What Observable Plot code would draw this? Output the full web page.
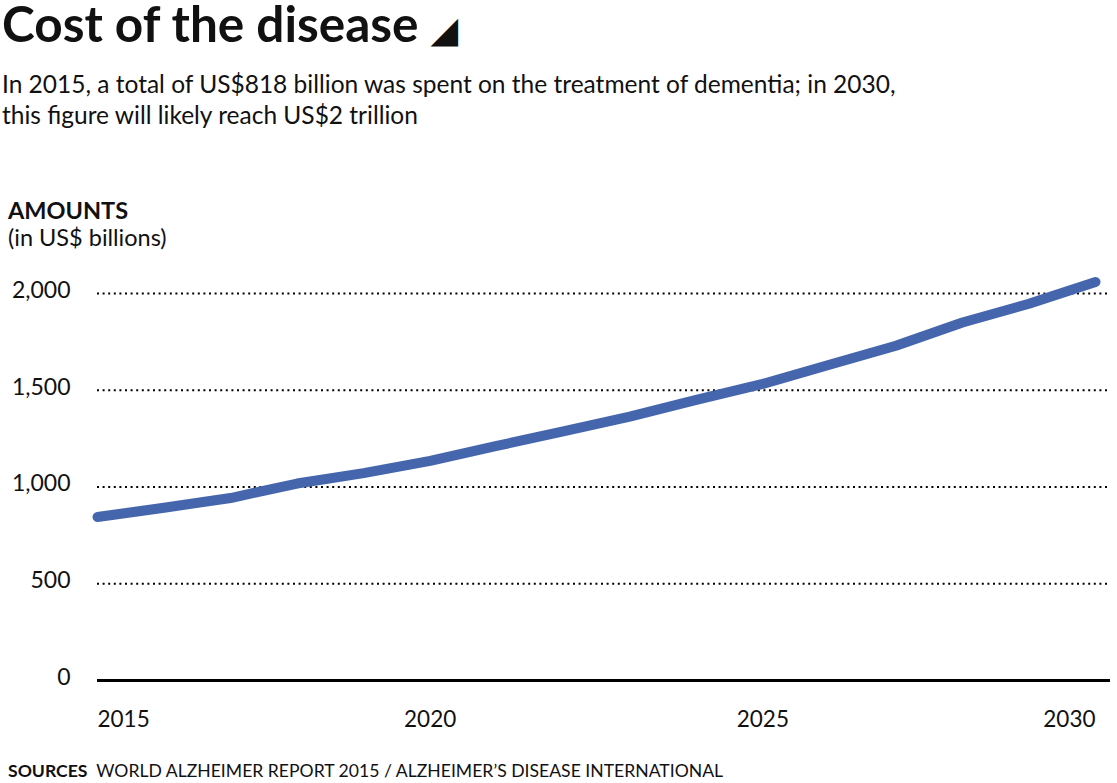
<!DOCTYPE html>
<html>
<head>
<meta charset="utf-8">
<script src="https://cdn.jsdelivr.net/npm/d3@7"></script>
<script src="https://cdn.jsdelivr.net/npm/@observablehq/plot@0.6"></script>
<style>
  html, body { margin: 0; padding: 0; background: #fff; }
  body { width: 1117px; height: 783px; position: relative; overflow: hidden; font-family: Lato, "Noto Sans", sans-serif; color: #111; }
  .abs { position: absolute; white-space: nowrap; }
  #title { left: 2px; top: 2px; font-size: 49.5px; font-weight: 700; line-height: 42px; }
  #title .tri { font-family: "DejaVu Sans"; font-size: 36px; margin-left: 12px; }
  #subtitle { left: 2px; top: 68px; font-size: 24.5px; line-height: 31px; }
  #ylab { left: 8px; top: 197px; font-size: 23.5px; line-height: 27px; }
  #ylab b { font-weight: 700; }
  #chart { left: 0; top: 260px; }
  #caption { left: 8px; top: 760px; font-size: 17.6px; line-height: 22px; }
  #caption b { font-weight: 700; }
</style>
</head>
<body>
<div id="title" class="abs">Cost of the disease<span class="tri">◢</span></div>
<div id="subtitle" class="abs">In 2015, a total of US$818 billion was spent on the treatment of dementia; in 2030,<br>this figure will likely reach US$2 trillion</div>
<div id="ylab" class="abs"><b>AMOUNTS</b><br>(in US$ billions)</div>
<div id="chart" class="abs"></div>
<div id="caption" class="abs"><b>SOURCES</b>&nbsp; WORLD ALZHEIMER REPORT 2015 / ALZHEIMER’S DISEASE INTERNATIONAL</div>
<script>
const years = [2015, 2016, 2017, 2018, 2019, 2020, 2021, 2022, 2023, 2024, 2025, 2026, 2027, 2028, 2029, 2030];
const costs = [845, 893, 943, 1018, 1072, 1135, 1212, 1288, 1364, 1450, 1533, 1632, 1730, 1850, 1947, 2060];
const yTicks = [0, 500, 1000, 1500, 2000];
const xTicks = [2015, 2020, 2025, 2030];

const data = years.map((year, i) => ({year, cost: costs[i]}));
const first = xTicks[0], last = xTicks[xTicks.length - 1];
const xLabel = {x: d => d, text: d => String(d), frameAnchor: "bottom", lineAnchor: "bottom", dy: 46, fontSize: 22.5, fill: "#111"};

const plot = Plot.plot({
  width: 1117,
  height: 490,
  marginLeft: 97,
  marginRight: 7,
  marginTop: 33,
  marginBottom: 70,
  x: {domain: [first, last], range: [97, 1095], axis: null},
  y: {domain: [0, 2000], axis: null},
  style: {fontFamily: "Lato, 'Noto Sans', sans-serif", fontSize: "22px", color: "#111", background: "#fff"},
  marks: [
    Plot.gridY(yTicks.filter(d => d > 0), {stroke: "#000", strokeOpacity: 1, strokeWidth: 2, strokeDasharray: "2,3.6"}),
    Plot.axisY(yTicks, {tickSize: 0, tickPadding: 27, tickFormat: d3.format(","), label: null, fontSize: 23, dy: -3}),
    Plot.ruleY([0], {stroke: "#000", strokeWidth: 3}),
    Plot.line(data, {x: "year", y: "cost", stroke: "#4566ad", strokeWidth: 10, strokeLinecap: "round", strokeLinejoin: "round"}),
    Plot.text(xTicks.filter(d => d === first), {...xLabel, textAnchor: "start"}),
    Plot.text(xTicks.filter(d => d !== first && d !== last), {...xLabel, textAnchor: "middle"}),
    Plot.text(xTicks.filter(d => d === last), {...xLabel, textAnchor: "end"})
  ]
});
document.getElementById("chart").appendChild(plot);
</script>
</body>
</html>
